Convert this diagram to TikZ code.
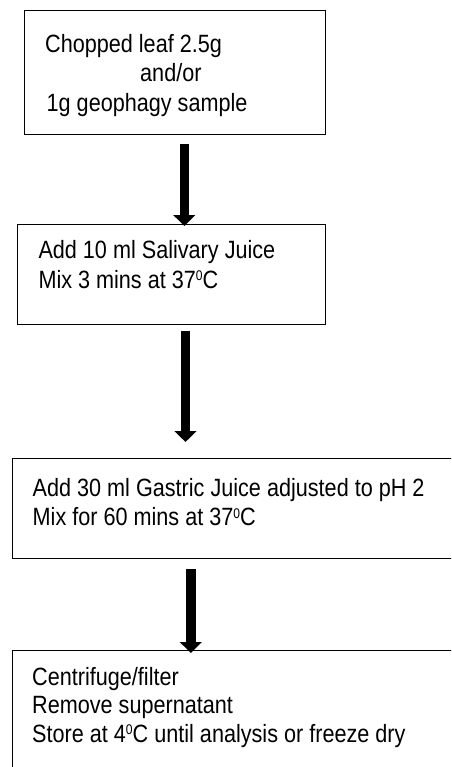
\documentclass[tikz,border=0pt]{standalone}
\usepackage{fontspec}
\setmainfont{Liberation Sans}[FakeStretch=0.865]
\usetikzlibrary{arrows.meta}

% small raised digit used for the degree sign
\newcommand{\degsup}{\raisebox{0.3em}{\fontsize{14}{14}\selectfont 0}}

\tikzset{
  stepbox/.style={draw=black, line width=1pt, rectangle, inner sep=0pt, anchor=north west},
  line/.style={anchor=base west, inner sep=0pt, font=\fontsize{25}{29}\selectfont},
  flow/.style={line width=9.5pt, -{Triangle[width=21.5pt,length=11pt]}},
}

\begin{document}
\begin{tikzpicture}[x=1pt, y=-1pt]
  \clip (0,0) rectangle (451,767);
  \fill[white] (0,0) rectangle (451,767);

  % step boxes
  \node[stepbox, minimum width=301pt, minimum height=124pt] (b1) at (24,10) {};
  \node[stepbox, minimum width=307.5pt, minimum height=100pt] (b2) at (17.3,223.5) {};
  \node[stepbox, minimum width=460pt, minimum height=100pt] (b3) at (11.5,458) {};
  \node[stepbox, minimum width=460pt, minimum height=140pt] (b4) at (11.5,650) {};

  % texts
  \node[line] (t11) at (45,52.5) {Chopped leaf 2.5g};
  \node[line] (t12) at (140,82) {and/or};
  \node[line] (t13) at (46.5,111.5) {1g geophagy sample};

  \node[line] (t21) at (38.3,258.5) {Add 10 ml Salivary Juice};
  \node[line] (t22) at (38.3,288) {Mix 3 mins at 37\degsup C};

  \node[line] (t31) at (32.5,496.5) {Add 30 ml Gastric Juice adjusted to pH 2};
  \node[line] (t32) at (32.5,525.5) {Mix for 60 mins at 37\degsup C};

  \node[line] (t41) at (32,685.5) {Centrifuge/filter};
  \node[line] (t42) at (32,713.5) {Remove supernatant};
  \node[line] (t43) at (32,742) {Store at 4\degsup C until analysis or freeze dry};

  % arrow columns
  \coordinate (x1) at (184.3,0);
  \coordinate (x2) at (185.5,0);
  \coordinate (x3) at (190.8,0);

  \draw[flow, shorten <=8.7pt, shorten >=-2.5pt] (b1.south -| x1) -- (b2.north -| x1);
  \draw[flow, shorten <=6pt, shorten >=16pt] (b2.south -| x2) -- (b3.north -| x2);
  \draw[flow, shorten <=10pt, shorten >=-3pt] (b3.south -| x3) -- (b4.north -| x3);
\end{tikzpicture}
\end{document}
